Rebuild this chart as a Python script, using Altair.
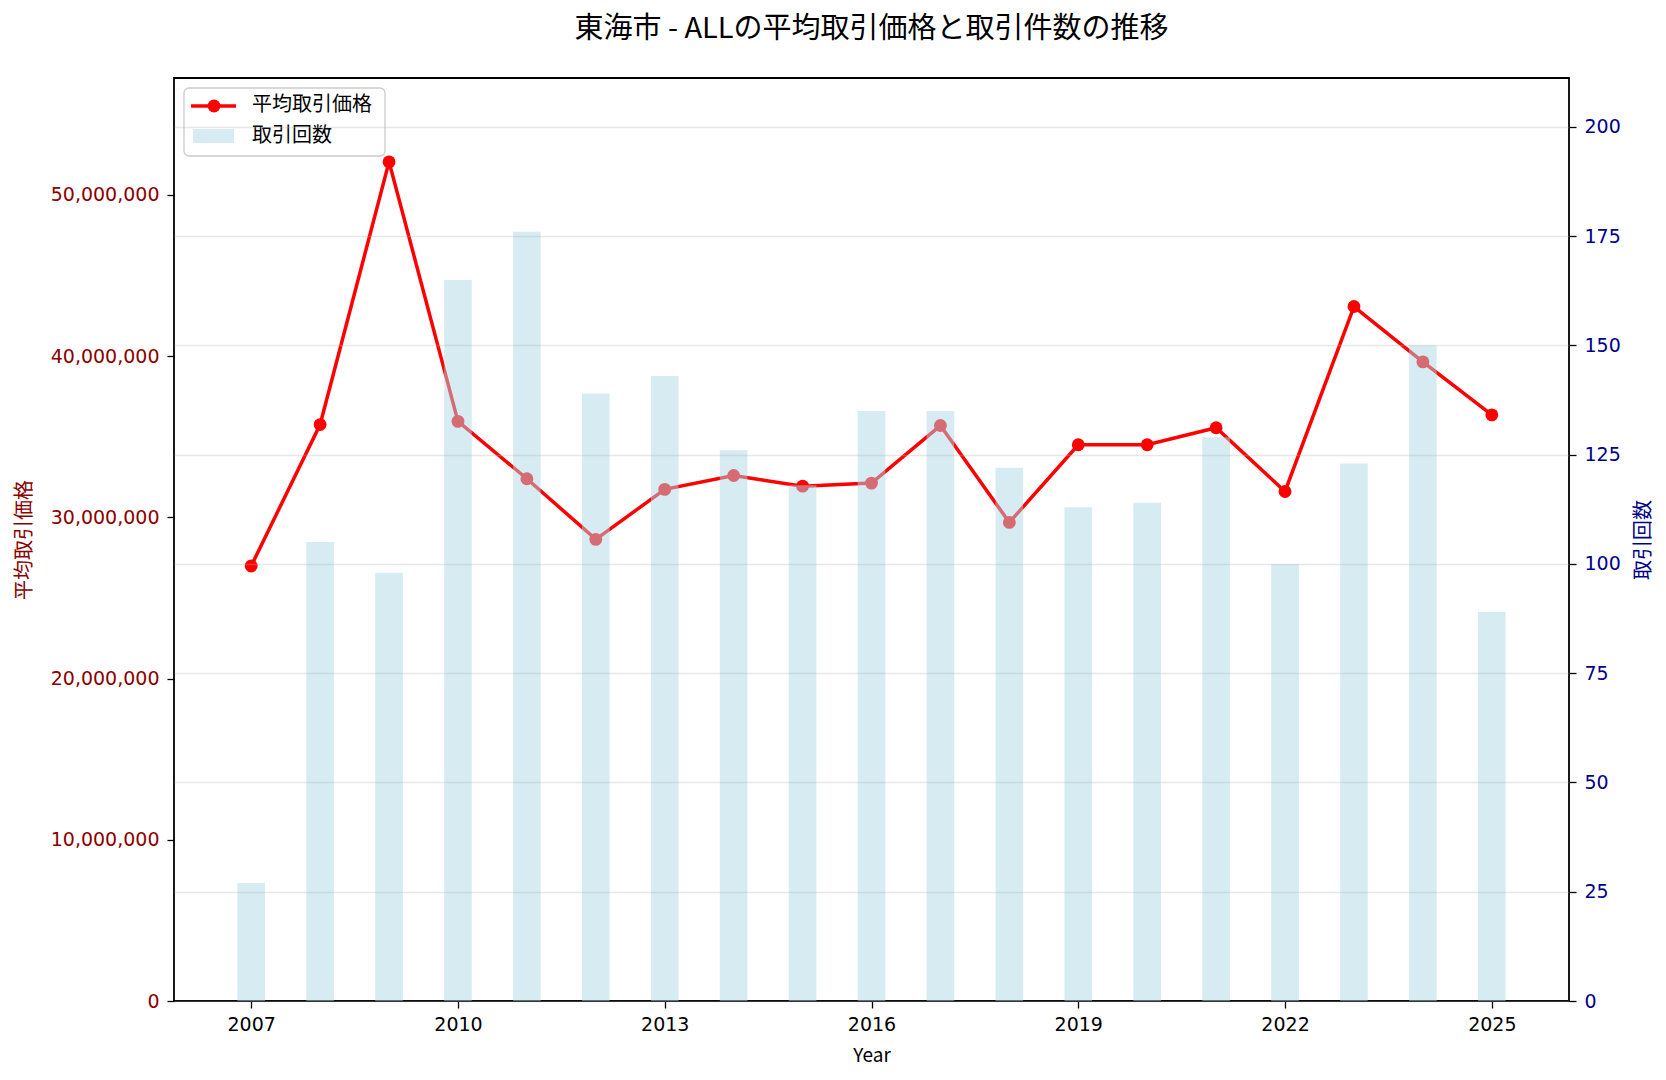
import altair as alt
import pandas as pd

years = list(range(2007, 2026))
avg_price = [26980000, 35750000, 52040000, 35950000, 32390000, 28630000, 31730000,
             32590000, 31930000, 32120000, 35690000, 29680000, 34500000, 34500000,
             35550000, 31600000, 43070000, 39640000, 36350000]
counts = [27, 105, 98, 165, 176, 139, 143, 126, 118, 135, 135, 122, 113, 114,
          129, 100, 123, 150, 89]
legend_labels = ["平均取引価格", "取引回数"]
title_text = "東海市 - ALLの平均取引価格と取引件数の推移"

FONT = "Noto Sans CJK JP"
NUM_FONT = "DejaVu Sans"

df = pd.DataFrame({"year": years, "price": avg_price, "count": counts})

x_scale = alt.Scale(domain=[2005.88, 2026.12], nice=False, zero=False)
x_axis = alt.Axis(values=[2007, 2010, 2013, 2016, 2019, 2022, 2025], format="d",
                  title="Year", grid=False, domain=False, tickColor="black",
                  tickSize=7, tickWidth=1.3, labelPadding=7, labelFontSize=19,
                  labelColor="black", labelFont=NUM_FONT, titleFont=FONT,
                  titleFontSize=19, titleFontWeight="normal", titleColor="black",
                  titlePadding=12)

line = alt.Chart(df).mark_line(
    color="red", strokeWidth=3.5,
    point=alt.OverlayMarkDef(color="red", filled=True, size=165, opacity=1)
).encode(
    x=alt.X("year:Q", scale=x_scale, axis=x_axis),
    y=alt.Y("price:Q",
            scale=alt.Scale(domain=[0, 57244000], nice=False, zero=True),
            axis=alt.Axis(values=[0, 10000000, 20000000, 30000000, 40000000, 50000000],
                          format=",d", title="平均取引価格", grid=False, domain=False,
                          orient="left", tickColor="black", tickSize=7, tickWidth=1.3,
                          labelPadding=8, labelFontSize=19, labelColor="#8b0000",
                          labelFont=NUM_FONT, titleFont=FONT, titleFontSize=20,
                          titleFontWeight="normal", titleColor="#8b0000",
                          titlePadding=16)),
)

bars = alt.Chart(df).transform_calculate(
    x0="datum.year - 0.2", x1="datum.year + 0.2"
).mark_bar(color="#add8e6", opacity=0.5).encode(
    x=alt.X("x0:Q", scale=x_scale, axis=x_axis),
    x2="x1:Q",
    y=alt.Y("count:Q",
            scale=alt.Scale(domain=[0, 211.2], nice=False, zero=True),
            axis=alt.Axis(values=[0, 25, 50, 75, 100, 125, 150, 175, 200],
                          format="d", title="取引回数", grid=True,
                          gridColor="#b0b0b0", gridOpacity=0.3, gridWidth=1.4,
                          domain=False, orient="right", tickColor="black",
                          tickSize=7, tickWidth=1.3, labelPadding=8,
                          labelFontSize=19, labelColor="#00008b", labelFont=NUM_FONT,
                          titleFont=FONT, titleFontSize=20, titleFontWeight="normal",
                          titleColor="#00008b", titleAngle=270, titlePadding=33,
                          zindex=1)),
    y2=alt.value(923),
)

leg_df = pd.DataFrame({"label": [legend_labels[0]]})
leg_box = alt.Chart(leg_df).mark_rect(
    fill="white", fillOpacity=0.8, stroke="#cccccc", strokeWidth=1.3, cornerRadius=5
).encode(x=alt.value(10), x2=alt.value(211), y=alt.value(10), y2=alt.value(78))
leg_line = alt.Chart(leg_df).mark_rule(color="red", strokeWidth=3.5).encode(
    x=alt.value(17), x2=alt.value(62), y=alt.value(28))
leg_point = alt.Chart(leg_df).mark_point(color="red", filled=True, size=165, opacity=1).encode(
    x=alt.value(40), y=alt.value(28))
leg_bar = alt.Chart(leg_df).mark_rect(color="#add8e6", opacity=0.5).encode(
    x=alt.value(19), x2=alt.value(60), y=alt.value(51), y2=alt.value(65))
leg_t1 = alt.Chart(leg_df).mark_text(align="left", baseline="middle", font=FONT,
                                     fontSize=20, color="black").encode(
    x=alt.value(78), y=alt.value(27), text=alt.value(legend_labels[0]))
leg_t2 = alt.Chart(leg_df).mark_text(align="left", baseline="middle", font=FONT,
                                     fontSize=20, color="black").encode(
    x=alt.value(78), y=alt.value(58), text=alt.value(legend_labels[1]))

chart = alt.layer(
    line, bars, leg_box, leg_line, leg_point, leg_bar, leg_t1, leg_t2
).resolve_scale(
    y="independent"
).properties(
    width=1395, height=923,
    background="white",
    autosize=alt.AutoSizeParams(type="none"),
    padding={"left": 174, "top": 78, "right": 97, "bottom": 79},
    title=alt.TitleParams(title_text, font=FONT, fontSize=29, fontWeight="normal",
                          color="black", anchor="middle", offset=34),
).configure_view(
    stroke="black", strokeWidth=1.8
)

chart.save("out.html", embed_options={"renderer": "svg", "actions": False})
